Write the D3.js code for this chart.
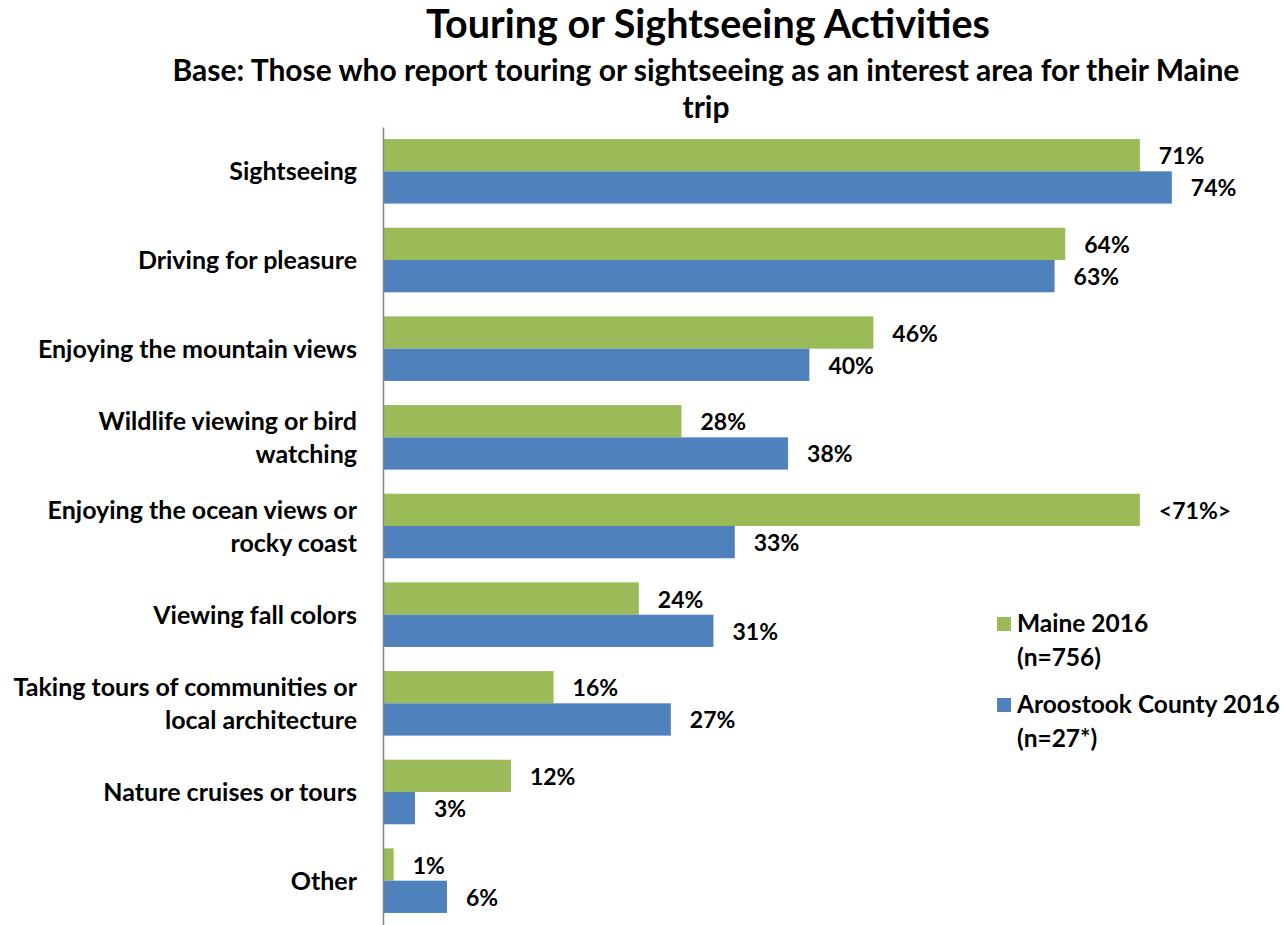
<!DOCTYPE html>
<html>
<head>
<meta charset="utf-8">
<script src="https://cdn.jsdelivr.net/npm/d3@7"></script>
<style>
  html, body { margin: 0; padding: 0; background: #fff; }
  svg text { font-family: Lato, "Open Sans", "DejaVu Sans", sans-serif; font-weight: bold; fill: #000; }
</style>
</head>
<body>
<svg id="chart" width="1282" height="925"></svg>
<script>
// Activity categories (multi-line labels split on "|")
const categories = [
  "Sightseeing",
  "Driving for pleasure",
  "Enjoying the mountain views",
  "Wildlife viewing or bird|watching",
  "Enjoying the ocean views or|rocky coast",
  "Viewing fall colors",
  "Taking tours of communities or|local architecture",
  "Nature cruises or tours",
  "Other"
];

// Percent of respondents, by series
const maine2016 = [71, 64, 46, 28, 71, 24, 16, 12, 1];
const aroostook2016 = [74, 63, 40, 38, 33, 31, 27, 3, 6];

// Statistically significant differences are marked with <...>
const maineSignificant = [false, false, false, false, true, false, false, false, false];

const seriesNames = ["Maine 2016|(n=756)", "Aroostook County 2016|(n=27*)"];
const seriesColors = ["#9BBB59", "#4F81BD"];

const title = "Touring or Sightseeing Activities";
const subtitleLines = [
  "Base: Those who report touring or sightseeing as an interest area for their Maine",
  "trip"
];

const svg = d3.select("#chart");

// Titles
svg.append("text")
  .attr("x", 708).attr("y", 38)
  .attr("text-anchor", "middle")
  .style("font-size", "39.5px")
  .text(title);

svg.selectAll("text.subtitle")
  .data(subtitleLines)
  .join("text")
  .attr("class", "subtitle")
  .attr("x", 706)
  .attr("y", (d, i) => 81 + i * 37)
  .attr("text-anchor", "middle")
  .style("font-size", "30px")
  .text(d => d);

// Scales
const x = d3.scaleLinear().domain([0, 80]).range([383, 383 + 80 * 10.66]);
const y = d3.scaleBand()
  .domain(categories)
  .range([127, 925])
  .paddingInner(0.272)
  .paddingOuter(0.136);
const sub = d3.scaleBand().domain([0, 1]).range([0, y.bandwidth()]);

const rows = categories.map((c, i) => ({
  cat: c,
  vals: [
    { s: 0, v: maine2016[i], label: maineSignificant[i] ? `<${maine2016[i]}%>` : `${maine2016[i]}%` },
    { s: 1, v: aroostook2016[i], label: `${aroostook2016[i]}%` }
  ]
}));

const groups = svg.append("g")
  .selectAll("g.row")
  .data(rows)
  .join("g")
  .attr("class", "row")
  .attr("transform", d => `translate(0,${y(d.cat)})`);

groups.selectAll("rect")
  .data(d => d.vals)
  .join("rect")
  .attr("x", x(0))
  .attr("y", d => sub(d.s))
  .attr("width", d => x(d.v) - x(0))
  .attr("height", sub.bandwidth())
  .attr("fill", d => seriesColors[d.s]);

groups.selectAll("text.value")
  .data(d => d.vals)
  .join("text")
  .attr("class", "value")
  .attr("x", d => x(d.v) + 19)
  .attr("y", d => sub(d.s) + sub.bandwidth() / 2 + 9)
  .style("font-size", "23px")
  .text(d => d.label);

// Category axis
const axis = svg.append("g")
  .attr("transform", `translate(${x(0)},0)`)
  .call(d3.axisLeft(y).tickSize(0).tickPadding(26).tickFormat(""));
axis.select(".domain").attr("stroke", "#868686").attr("stroke-width", 1.5);

axis.selectAll(".tick").each(function (d) {
  const lines = d.split("|");
  const t = d3.select(this).append("text")
    .attr("x", -26)
    .attr("text-anchor", "end")
    .style("font-size", "25px");
  const lh = 33;
  lines.forEach((ln, i) => {
    t.append("tspan")
      .attr("x", -26)
      .attr("y", (i - (lines.length - 1) / 2) * lh + 9)
      .text(ln);
  });
});

// Legend
const legend = svg.append("g")
  .selectAll("g.legend")
  .data(seriesNames)
  .join("g")
  .attr("class", "legend")
  .attr("transform", (d, i) => `translate(997,${617 + i * 81})`);

legend.append("rect")
  .attr("width", 14).attr("height", 14)
  .attr("fill", (d, i) => seriesColors[i]);

legend.append("text")
  .style("font-size", "24.5px")
  .selectAll("tspan")
  .data(d => d.split("|"))
  .join("tspan")
  .attr("x", 20)
  .attr("y", (d, i) => 15 + i * 34)
  .text(d => d);
</script>
</body>
</html>
